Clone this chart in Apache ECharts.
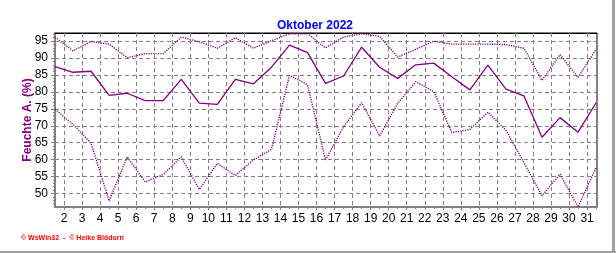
<!DOCTYPE html>
<html>
<head>
<meta charset="utf-8">
<script src="https://cdn.jsdelivr.net/npm/echarts@6/dist/echarts.min.js"></script>
<style>
html,body{margin:0;padding:0;background:#fff;}
#c{width:616px;height:253px;}
</style>
</head>
<body>
<div id="c"></div>
<script>
// Daily values, October 2022
const days = [1,2,3,4,5,6,7,8,9,10,11,12,13,14,15,16,17,18,19,20,21,22,23,24,25,26,27,28,29,30,31];
const maxVals  = [96.2,92.1,94.9,94.1,90.1,91.3,91.3,96.2,94.8,92.9,96.0,92.9,95.1,97.2,97.2,93.0,96.2,97.2,96.4,90.3,92.6,95.0,94.1,94.1,94.1,94.0,92.9,83.4,91.0,84.3,92.6];
const meanVals = [87.5,85.8,86.1,79.0,79.6,77.4,77.4,83.7,76.7,76.3,83.7,82.4,87.3,93.8,91.6,82.5,84.7,93.2,87.3,84.0,88.0,88.5,84.5,80.6,87.9,80.8,78.8,66.6,72.4,68.1,76.8];
const minVals  = [74.9,70.4,64.8,47.8,60.8,53.4,55.6,60.8,51.2,58.9,55.3,59.9,63.0,84.9,82.1,59.9,69.7,76.8,67.0,76.6,83.0,80.1,68.0,68.9,74.0,68.7,59.1,49.3,55.7,46.0,57.7];
const xTickLabels = [2,3,4,5,6,7,8,9,10,11,12,13,14,15,16,17,18,19,20,21,22,23,24,25,26,27,28,29,30,31];
const xHalfTicks = [2.5,3.5,4.5,5.5,6.5,7.5,8.5,9.5,10.5,11.5,12.5,13.5,14.5,15.5,16.5,17.5,18.5,19.5,20.5,21.5,22.5,23.5,24.5,25.5,26.5,27.5,28.5,29.5,30.5,31.5];
const yTickLabels = [50,55,60,65,70,75,80,85,90,95];
const yMinorTicks = [47,48,49,51,52,53,54,56,57,58,59,61,62,63,64,66,67,68,69,71,72,73,74,76,77,78,79,81,82,83,84,86,87,88,89,91,92,93,94,96,97];

const FONT = '"Liberation Sans", Arial, sans-serif';
const PURPLE = '#800080';
const xMin = 1.5, xMax = 31.55, yMin = 46, yMax = 97.4;

// Daily values are plotted at the middle of each day
const toPts = vals => days.map((d, i) => [d + 0.5, vals[i]]);

const chart = echarts.init(document.getElementById('c'), null, {renderer: 'canvas'});
chart.setOption({
  animation: false,
  backgroundColor: '#fff',
  title: {
    text: 'Oktober 2022',
    left: 310, top: 15, textAlign: 'center',
    textStyle: {color: '#0000ff', fontSize: 12, fontWeight: 'bold', fontFamily: FONT}
  },
  grid: {left: 55, right: 19, top: 33, bottom: 46, show: true, borderColor: '#000', borderWidth: 1, backgroundColor: 'transparent'},
  xAxis: [
    {
      type: 'value', min: xMin, max: xMax,
      axisLine: {show: true, onZero: false, lineStyle: {color: '#808080', width: 2}},
      axisTick: {show: true, customValues: xTickLabels, length: 3, lineStyle: {color: '#808080'}},
      axisLabel: {customValues: xTickLabels, color: '#000', fontSize: 12, fontFamily: FONT, margin: 6},
      splitLine: {show: true, lineStyle: {color: '#808080', type: [4, 3], width: 1}}
    },
    {
      type: 'value', min: xMin, max: xMax, position: 'bottom',
      axisLine: {show: false},
      axisTick: {show: true, customValues: xHalfTicks, length: 2, lineStyle: {color: '#808080'}},
      axisLabel: {show: false},
      splitLine: {show: false}
    },
    {
      type: 'value', min: xMin, max: xMax, position: 'top',
      axisLine: {show: true, onZero: false, lineStyle: {color: '#000', width: 1}},
      axisTick: {show: true, inside: true, customValues: xTickLabels, length: 3, lineStyle: {color: '#808080'}},
      axisLabel: {show: false},
      splitLine: {show: false}
    }
  ],
  yAxis: [
    {
      type: 'value', min: yMin, max: yMax,
      name: 'Feuchte A. (%)', nameLocation: 'middle', nameGap: 21, nameRotate: 90, nameMoveOverlap: false,
      nameTextStyle: {color: PURPLE, fontSize: 12, fontWeight: 'bold', fontFamily: FONT},
      axisLine: {show: true, onZero: false, lineStyle: {color: '#808080', width: 2}},
      axisTick: {show: true, customValues: yTickLabels, length: 4, lineStyle: {color: '#808080'}},
      axisLabel: {customValues: yTickLabels, color: '#000', fontSize: 12, fontFamily: FONT, margin: 7},
      splitLine: {show: true, lineStyle: {color: '#808080', type: [4, 3], width: 1}}
    },
    {
      type: 'value', min: yMin, max: yMax, position: 'left',
      axisLine: {show: false},
      axisTick: {show: true, customValues: yMinorTicks, length: 2, lineStyle: {color: '#808080'}},
      axisLabel: {show: false},
      splitLine: {show: false}
    }
  ],
  series: [
    {type: 'line', name: 'max', data: toPts(maxVals), showSymbol: false, lineStyle: {color: PURPLE, width: 1.4, type: [1.2, 1.2]}},
    {type: 'line', name: 'mean', data: toPts(meanVals), showSymbol: false, lineStyle: {color: PURPLE, width: 1.3}},
    {type: 'line', name: 'min', data: toPts(minVals), showSymbol: false, lineStyle: {color: PURPLE, width: 1.4, type: [1.2, 1.2]}}
  ],
  graphic: [
    {type: 'text', left: 21, top: 235, style: {text: '© WsWin32  -  © Heike Blödorn', fill: '#ff0000', font: 'bold 7px ' + FONT}},
    {type: 'rect', shape: {x: 612, y: 0, width: 3, height: 253}, style: {fill: '#a0a0a0'}},
    {type: 'rect', shape: {x: 0, y: 251, width: 616, height: 2}, style: {fill: '#a0a0a0'}}
  ]
});
</script>
</body>
</html>
